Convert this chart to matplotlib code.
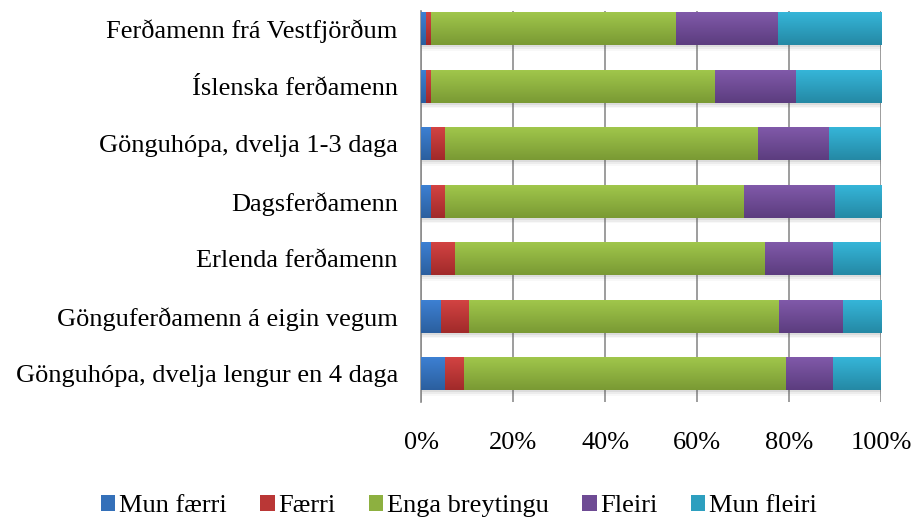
import matplotlib.pyplot as plt
import matplotlib.colors as mcolors
import numpy as np

categories = [
    "Ferðamenn frá Vestfjörðum",
    "Íslenska ferðamenn",
    "Gönguhópa, dvelja 1-3 daga",
    "Dagsferðamenn",
    "Erlenda ferðamenn",
    "Gönguferðamenn á eigin vegum",
    "Gönguhópa, dvelja lengur en 4 daga",
]
series_names = ["Mun færri", "Færri", "Enga breytingu", "Fleiri", "Mun fleiri"]

mun_faerri = [1.0, 1.0, 2.1, 2.1, 2.1, 4.3, 5.2]
faerri = [1.1, 1.1, 3.1, 3.1, 5.2, 6.1, 4.1]
enga_breytingu = [53.2, 61.8, 67.9, 64.9, 67.5, 67.4, 69.9]
fleiri = [22.3, 17.6, 15.6, 19.8, 14.8, 13.9, 10.4]
mun_fleiri = [22.4, 18.5, 11.3, 10.1, 10.4, 8.3, 10.4]

series = [mun_faerri, faerri, enga_breytingu, fleiri, mun_fleiri]
# (top colour, bottom colour) of the gradient
colours = [
    ("#3d80d2", "#2b5f9f"),
    ("#d24342", "#a12a2a"),
    ("#a0c64b", "#7a9a34"),
    ("#8059a9", "#5c3d7f"),
    ("#35b5d8", "#2589a5"),
]

plt.rcParams['font.family'] = ['Liberation Serif', 'DejaVu Serif']
font = {'family': 'Liberation Serif', 'size': 19}

fig = plt.figure(figsize=(9.18, 5.22), dpi=100)
ax = fig.add_axes([0.459, 0.229, 0.501, 0.749])

y = np.arange(len(categories))
h = 0.57
left = np.zeros(len(categories))

# soft shadow under each bar
totals = np.sum(series, axis=0)
for off, a in [(0.04, 0.10), (0.07, 0.07), (0.10, 0.04)]:
    ax.barh(y + off, totals, height=h, color="#555555", alpha=a,
            linewidth=0, zorder=1)

for vals, name, (c_top, c_bot) in zip(series, series_names, colours):
    top = np.array(mcolors.to_rgb(c_top))
    bot = np.array(mcolors.to_rgb(c_bot))
    bars = ax.barh(y, vals, left=left, height=h, color=tuple((top + bot) / 2),
                   label=name, linewidth=0, zorder=2)
    t = np.linspace(0, 1, 30)[:, None, None]
    grad = top[None, None, :] * (1 - t) + bot[None, None, :] * t
    for p in bars.patches:
        x0, y0 = p.get_x(), p.get_y()
        ax.imshow(grad, extent=(x0, x0 + p.get_width(), y0 + p.get_height(), y0),
                  aspect='auto', interpolation='bilinear', origin='upper', zorder=3)
    left += np.array(vals)

ax.set_xlim(0, 100)
ax.set_ylim(6.5, -0.3)
ax.set_xticks([0, 20, 40, 60, 80, 100])
ax.set_xticklabels(["0%", "20%", "40%", "60%", "80%", "100%"], fontdict=font)
ax.set_yticks(y)
ax.set_yticklabels(categories, fontdict=font)
ax.tick_params(axis='x', length=0, pad=21)
ax.tick_params(axis='y', length=0, pad=17)
ax.grid(axis='x', color="#8c8c8c", linewidth=1.2, zorder=0)
ax.set_axisbelow(True)
for s in ['top', 'right', 'bottom']:
    ax.spines[s].set_visible(False)
ax.spines['left'].set_color("#8c8c8c")
ax.spines['left'].set_linewidth(1.2)

fig.legend(loc='lower center', bbox_to_anchor=(0.5, -0.036), ncol=5, frameon=False,
           prop=font, handlelength=0.55, handleheight=0.55, handletextpad=0.15,
           columnspacing=1.25)

plt.savefig("out.png", dpi=100)
